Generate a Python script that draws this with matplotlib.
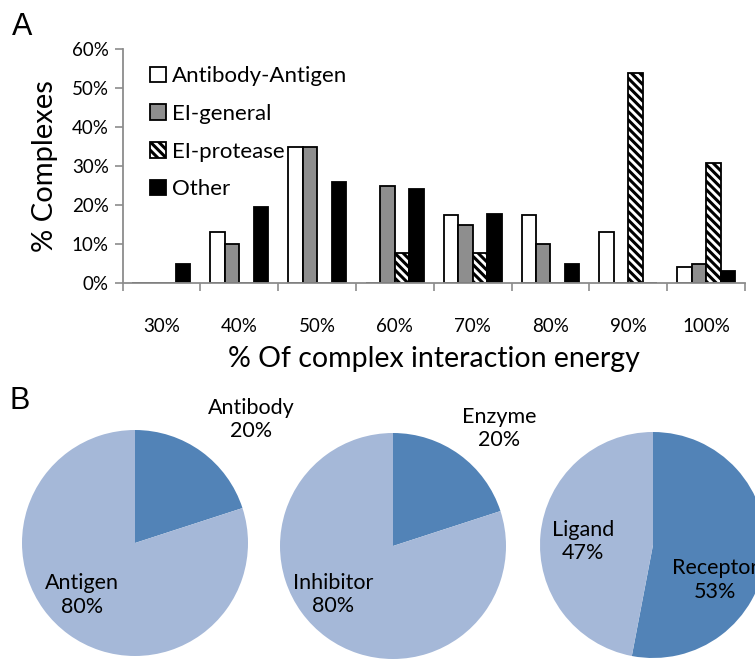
import numpy as np
import matplotlib
matplotlib.use('Agg')
import matplotlib.pyplot as plt

# panel A: % complexes per energy bin
energy_bins = ['30%', '40%', '50%', '60%', '70%', '80%', '90%', '100%']
antibody_antigen = [0, 13.1, 34.8, 0, 17.4, 17.4, 13.1, 4.3]
ei_general = [0, 10.0, 35.0, 25.0, 15.0, 10.0, 0, 5.0]
ei_protease = [0, 0, 0, 7.7, 7.7, 0, 53.8, 30.8]
other = [4.9, 19.5, 25.9, 24.2, 17.7, 4.9, 0, 3.2]
series_names = ['Antibody-Antigen', 'EI-general', 'EI-protease', 'Other']

# panel B: pie charts
pie_labels = [['Antibody', 'Antigen'], ['Enzyme', 'Inhibitor'], ['Receptor', 'Ligand']]
pie_values = [[20, 80], [20, 80], [53, 47]]

W, H = 755, 660
plt.rcParams['font.family'] = ['Lato', 'DejaVu Sans']
plt.rcParams['hatch.linewidth'] = 2.2

fig = plt.figure(figsize=(W / 100, H / 100), dpi=100)


def px_axes(left, top, width, height):
    return fig.add_axes([left / W, 1 - (top + height) / H, width / W, height / H])


# ---------- panel A ----------
ax = px_axes(122.5, 49, 622.5, 234.3)
x = np.arange(len(energy_bins))
w = 0.186
spine_col = '#8c8c8c'

ax.bar(x - 1.5 * w, antibody_antigen, w, color='white', edgecolor='black', linewidth=1.3, label=series_names[0])
ax.bar(x - 0.5 * w, ei_general, w, color='#8e8e8e', edgecolor='black', linewidth=1.3, label=series_names[1])
ax.bar(x + 0.5 * w, ei_protease, w, color='white', edgecolor='black', linewidth=1.3, hatch='\\\\\\\\',
       label=series_names[2])
ax.bar(x + 1.5 * w, other, w, color='black', edgecolor='black', linewidth=1.3, label=series_names[3])

ax.set_xlim(-0.5, len(energy_bins) - 0.5)
ax.set_ylim(0, 60)
ax.set_yticks(np.arange(0, 61, 10))
ax.set_yticklabels(['{}%'.format(v) for v in range(0, 61, 10)], fontsize=13.5)
ax.set_xticks(np.arange(-0.5, len(energy_bins), 1))
ax.set_xticklabels([])
ax.set_xticks(x, minor=True)
ax.set_xticklabels(energy_bins, minor=True, fontsize=13.5)
ax.tick_params(axis='x', which='minor', length=0, pad=25)
ax.tick_params(axis='x', which='major', length=6, width=1.2, color=spine_col, direction='out')
ax.tick_params(axis='y', length=6, width=1.2, color=spine_col, direction='out', pad=4)
for s in ['top', 'right']:
    ax.spines[s].set_visible(False)
for s in ['left', 'bottom']:
    ax.spines[s].set_color(spine_col)
    ax.spines[s].set_linewidth(1.3)

ax.set_ylabel('% Complexes', fontsize=21, labelpad=10)
ax.set_xlabel('% Of complex interaction energy', fontsize=20.5, labelpad=8)

ax.legend(loc='upper left', bbox_to_anchor=(0.03, 0.965), frameon=False, fontsize=16,
          handlelength=0.7, handleheight=0.7, handletextpad=0.3, labelspacing=0.8, borderaxespad=0)

fig.text(12 / W, 1 - 27 / H, 'A', fontsize=22, family='Liberation Sans', va='center', ha='left')
fig.text(10 / W, 1 - 401 / H, 'B', fontsize=22, family='Liberation Sans', va='center', ha='left')

# ---------- panel B ----------
dark = '#5283b7'
light = '#a5b8d8'
r = 113
centers = [(135, 543), (393, 546), (653, 545)]
# label positions in pie units (radius = 1)
label_pos = [[(1.03, 1.09), (-0.47, -0.46)],
             [(0.94, 1.04), (-0.53, -0.43)],
             [(0.55, -0.31), (-0.62, 0.03)]]

for (cx, cy), vals, labs, pos in zip(centers, pie_values, pie_labels, label_pos):
    pax = px_axes(cx - r, cy - r, 2 * r, 2 * r)
    pax.pie(vals, colors=[dark, light], startangle=90, counterclock=False,
            wedgeprops=dict(linewidth=0))
    pax.set_xlim(-1, 1)
    pax.set_ylim(-1, 1)
    pax.set_aspect('equal')
    pax.set_axis_off()
    for v, lab, (tx, ty) in zip(vals, labs, pos):
        pax.text(tx, ty, '{}\n{}%'.format(lab, v), fontsize=15.5, ha='center', va='center',
                 multialignment='center', linespacing=1.2, clip_on=False)

fig.savefig('out.png', dpi=100)
